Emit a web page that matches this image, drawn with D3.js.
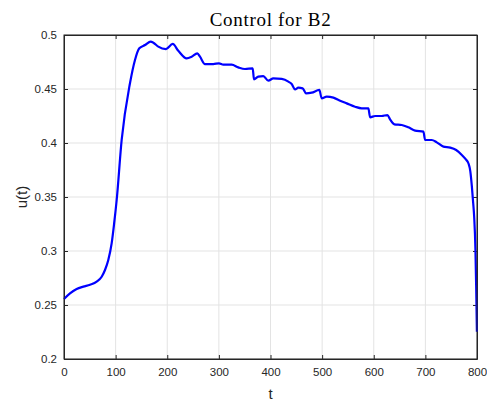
<!DOCTYPE html>
<html><head><meta charset="utf-8">
<script src="https://cdn.jsdelivr.net/npm/d3@7"></script>
<style>body{margin:0;background:#fff}svg{display:block}</style>
</head><body>
<svg id="c" width="487" height="404"></svg>
<script>
const tVals = [0,11.6,24.5,37.4,50.4,63.3,73,79.4,85.8,92.3,97,102,111.7,127.8,137.5,145.9,157,167.9,173,182.7,197.6,210.5,221.4,237.6,247.3,258.2,263.4,273.1,289.2,300.2,308.6,324.8,337.6,350.6,365.5,368,376.4,386,395.8,405.5,421.7,434.6,441,447.5,453.9,462.3,468.8,479.8,494.6,499.2,508.9,521.8,534.8,547.7,563.8,576.7,589.6,592.9,602.6,615.5,626.4,631.6,640,654.2,667.1,680.1,696.2,699.5,712.4,722.1,735,748,759.6,770.6,778,783.5,787,790,792.5,794.5,797,798.4,799.8];
const uVals = [0.2556,0.2608,0.2648,0.2670,0.2688,0.2716,0.2762,0.2824,0.2917,0.3071,0.3250,0.3470,0.4028,0.4553,0.4769,0.4877,0.4907,0.4938,0.4929,0.4892,0.4870,0.4917,0.4854,0.4784,0.4799,0.4830,0.4799,0.4731,0.4731,0.4738,0.4725,0.4725,0.4700,0.4685,0.4691,0.4590,0.4614,0.4620,0.4577,0.4599,0.4593,0.4568,0.4546,0.4497,0.4512,0.4506,0.4460,0.4466,0.4491,0.4414,0.4429,0.4420,0.4392,0.4367,0.4336,0.4321,0.4321,0.4238,0.4250,0.4250,0.4259,0.4219,0.4173,0.4167,0.4145,0.4114,0.4105,0.4028,0.4028,0.4006,0.3966,0.3957,0.3935,0.3889,0.3850,0.3810,0.3740,0.3600,0.3450,0.3318,0.3010,0.2670,0.2253];
const xTicks = [0,100,200,300,400,500,600,700,800];
const yTicks = [0.2,0.25,0.3,0.35,0.4,0.45,0.5];
const yTickLabels = ["0.2","0.25","0.3","0.35","0.4","0.45","0.5"];
const title = "Control for B2", xLabel = "t", yLabel = "u(t)";

const L=64,R=477,T=35,B=359;
const svg=d3.select("#c");
const x=d3.scaleLinear().domain([0,800]).range([L,R]);
const y=d3.scaleLinear().domain([0.2,0.5]).range([B,T]);
const axisCol="#262626";
// grid
const g=svg.append("g");
g.selectAll(".gx").data(xTicks).join("line").attr("x1",d=>x(d)).attr("x2",d=>x(d)).attr("y1",T).attr("y2",B).attr("stroke","#e3e3e3").attr("stroke-width",1);
g.selectAll(".gy").data(yTicks).join("line").attr("y1",d=>y(d)).attr("y2",d=>y(d)).attr("x1",L).attr("x2",R).attr("stroke","#e3e3e3").attr("stroke-width",1);
// axes
const fmtY=(d,i)=>yTickLabels[i];
const ax=svg.append("g").attr("transform",`translate(0,${B})`).call(d3.axisBottom(x).tickValues(xTicks).tickSizeInner(-4).tickSizeOuter(0).tickPadding(9));
const axT=svg.append("g").attr("transform",`translate(0,${T})`).call(d3.axisTop(x).tickValues(xTicks).tickSizeInner(-4).tickSizeOuter(0).tickFormat(""));
const ay=svg.append("g").attr("transform",`translate(${L},0)`).call(d3.axisLeft(y).tickValues(yTicks).tickSizeInner(-4).tickSizeOuter(0).tickPadding(7).tickFormat(fmtY));
const ayR=svg.append("g").attr("transform",`translate(${R},0)`).call(d3.axisRight(y).tickValues(yTicks).tickSizeInner(-4).tickSizeOuter(0).tickFormat(""));
[ax,axT,ay,ayR].forEach(a=>{a.selectAll("path").attr("stroke",axisCol);a.selectAll("line").attr("stroke",axisCol);a.selectAll("text").attr("fill",axisCol).style("font-family","Liberation Sans, Arial, sans-serif").style("font-size","11.5px");});
ax.selectAll("text").attr("dy","0.71em");
// line
const data=tVals.map((t,i)=>[t,uVals[i]]);
svg.append("path").datum(data).attr("fill","none").attr("stroke","#0000ff").attr("stroke-width",2.2).attr("stroke-linejoin","round")
  .attr("d",d3.line().x(d=>x(d[0])).y(d=>y(d[1])).curve(d3.curveMonotoneX));
// box
svg.append("rect").attr("x",L).attr("y",T).attr("width",R-L).attr("height",B-T).attr("fill","none").attr("stroke",axisCol).attr("stroke-width",1);
// labels
svg.append("text").attr("x",(L+R)/2).attr("y",25.5).attr("text-anchor","middle").style("font-family","Liberation Serif, Times New Roman, serif").style("font-size","19px").style("letter-spacing","0.7px").attr("fill","#000").text(title);
svg.append("text").attr("x",(L+R)/2).attr("y",399).attr("text-anchor","middle").style("font-family","Liberation Sans, Arial, sans-serif").style("font-size","15px").attr("fill",axisCol).text(xLabel);
svg.append("text").attr("transform",`translate(27,${(T+B)/2}) rotate(-90)`).attr("text-anchor","middle").style("font-family","Liberation Sans, Arial, sans-serif").style("font-size","15px").attr("fill",axisCol).text(yLabel);
</script>
</body></html>
